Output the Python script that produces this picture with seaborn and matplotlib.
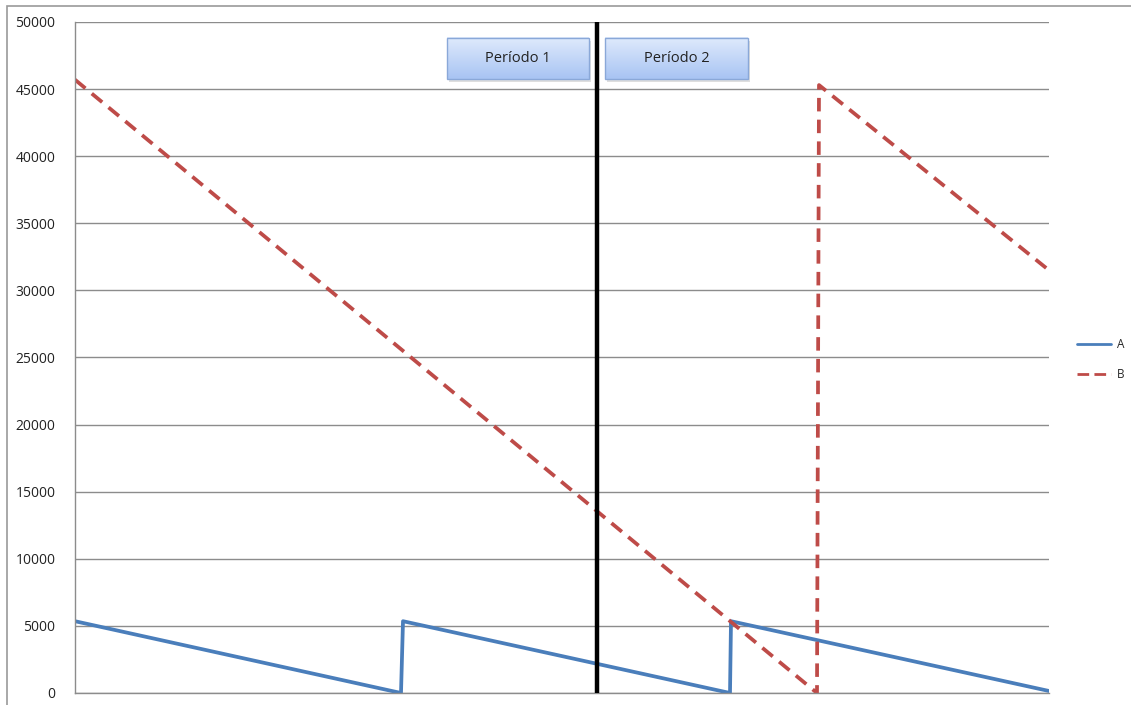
import numpy as np
import pandas as pd
import matplotlib
matplotlib.use("Agg")
import matplotlib.pyplot as plt
from matplotlib.patches import Rectangle
from matplotlib.colors import LinearSegmentedColormap
import seaborn as sns

# Series breakpoints (time index, stock level)
a_x = [0, 326, 328, 655, 656, 974]
a_y = [5350, 0, 5350, 0, 5350, 150]
b_x = [0, 742, 744, 974]
b_y = [45700, 0, 45300, 31500]
series_names = ["A", "B"]
period_labels = ["Período 1", "Período 2"]
period_split = 522
y_ticks = list(range(0, 50001, 5000))

df = pd.concat([
    pd.DataFrame({"t": a_x, "valor": a_y, "serie": series_names[0]}),
    pd.DataFrame({"t": b_x, "valor": b_y, "serie": series_names[1]}),
], ignore_index=True)

sns.set_theme(style="white")
plt.rcParams["font.family"] = ["Open Sans", "DejaVu Sans"]

W, H = 1131, 705
fig = plt.figure(figsize=(W / 100, H / 100), dpi=100)
ax = fig.add_axes([75 / W, (H - 693) / H, (1049 - 75) / W, (693 - 22) / H])

# Outer chart frame
fig.patches.append(Rectangle((7 / W, -0.05), 1.1, (H - 6) / H + 0.05,
                             transform=fig.transFigure, fill=False,
                             edgecolor="#9a9a9a", linewidth=1.2))

blue = "#4a7ebb"
red = "#be4b48"
sns.lineplot(data=df, x="t", y="valor", hue="serie", style="serie",
             palette={"A": blue, "B": red},
             dashes={"A": "", "B": (3.6, 2.2)},
             linewidth=2.7, ax=ax, sort=False, estimator=None, legend=True)

ax.set_xlim(0, 974)
ax.set_ylim(0, 50000)
ax.set_yticks(y_ticks)
ax.set_yticklabels([str(v) for v in y_ticks], fontsize=10, color="#222222")
ax.set_xticks([])
ax.set_xlabel("")
ax.set_ylabel("")
ax.tick_params(axis="y", length=0, pad=14)
ax.grid(axis="y", color="#8c8c8c", linewidth=1.0)
ax.set_axisbelow(True)
for side in ["top", "right"]:
    ax.spines[side].set_visible(False)
for side in ["left", "bottom"]:
    ax.spines[side].set_color("#8c8c8c")
    ax.spines[side].set_linewidth(1.0)

# Period separator
ax.axvline(period_split, color="black", linewidth=3.2, zorder=5)

# Period label boxes with vertical gradient
grad = np.linspace(0, 1, 64).reshape(-1, 1)
cmap = LinearSegmentedColormap.from_list("box", ["#a8c4f3", "#dfeafc"])
box_px = [(447, 589), (605, 748)]
y0_px, y1_px = 38, 79
for (x0p, x1p), label in zip(box_px, period_labels):
    x0 = x0p - 75
    x1 = x1p - 75
    yb = (693 - y1_px) / 671 * 50000
    yt = (693 - y0_px) / 671 * 50000
    # soft drop shadow
    ax.add_patch(Rectangle((x0 + 2, yb - 250), x1 - x0, yt - yb,
                           facecolor="#c8c8c8", edgecolor="none", zorder=6, alpha=0.6))
    ax.imshow(grad, cmap=cmap, extent=(x0, x1, yb, yt), aspect="auto",
              origin="lower", zorder=7, interpolation="bilinear")
    ax.add_patch(Rectangle((x0, yb), x1 - x0, yt - yb, fill=False,
                           edgecolor="#8aa8d8", linewidth=1.0, zorder=8))
    ax.text((x0 + x1) / 2, (yb + yt) / 2, label, ha="center", va="center",
            fontsize=10.5, color="#222222", zorder=9)
ax.set_xlim(0, 974)
ax.set_ylim(0, 50000)

leg = ax.legend(loc="center left", bbox_to_anchor=((1066 - 75) / (1049 - 75), 0.497),
                frameon=False, fontsize=8.5, handlelength=2.9, handletextpad=0.5,
                labelspacing=1.45)
for line in leg.get_lines():
    line.set_linewidth(2.0)
leg.get_lines()[1].set_dashes([4.2, 1.9])

fig.savefig("out.png", dpi=100, facecolor="white")
